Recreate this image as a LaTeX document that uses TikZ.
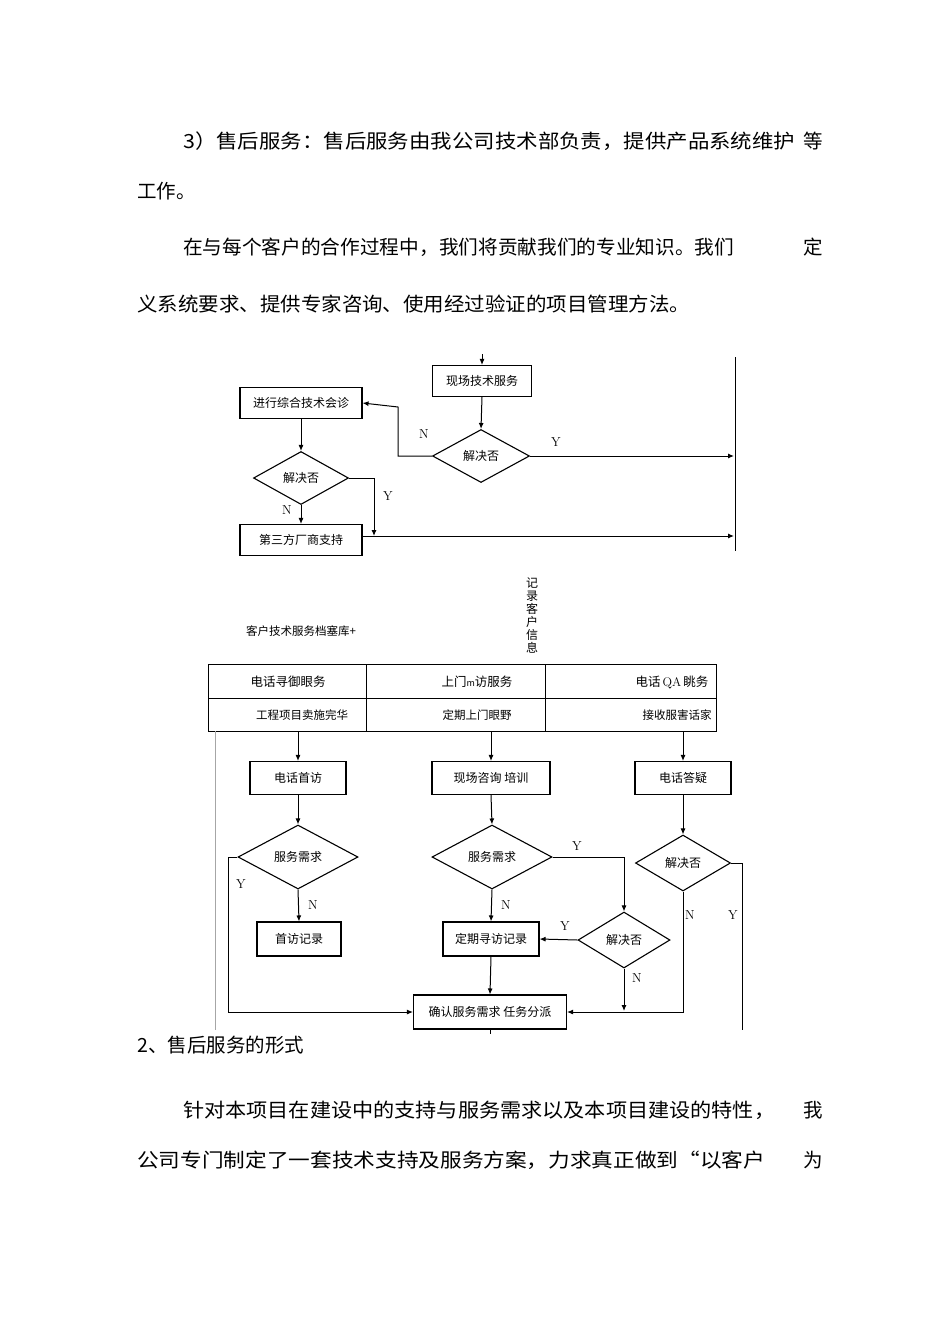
\documentclass[tikz,border=0pt]{standalone}
\usepackage{fontspec}
\usepackage{graphicx}
\newfontfamily\cjk{Noto Sans CJK SC}
\usetikzlibrary{shapes.geometric,arrows.meta}
\newcommand\fitw[2]{\resizebox{#1}{\height}{#2}}
\tikzset{
 box/.style={draw,line width=1.1pt,inner sep=0pt,font=\cjk\fontsize{12}{14}\selectfont},
 dia/.style={draw,line width=1.1pt,diamond,inner sep=0pt,aspect=1.7,font=\cjk\fontsize{12}{14}\selectfont},
 ln/.style={line width=1pt},
 arr/.style={line width=1pt,-{Latex[length=6pt,width=5pt]}},
 yn/.style={font=\fontsize{13}{15}\selectfont},
 body/.style={font=\cjk\fontsize{19.5}{22}\selectfont,inner sep=0pt},
 cell/.style={font=\cjk\fontsize{12.5}{14}\selectfont,inner sep=0pt}
}
\begin{document}
\begin{tikzpicture}[x=1pt,y=-1pt]
\useasboundingbox[fill=white] (0,0) rectangle (950,1344);
% body text
\node[body,anchor=west] (t1) at (183,141) {\fitw{612pt}{3）售后服务：售后服务由我公司技术部负责，提供产品系统维护}};
\node[body,anchor=east] (t1b) at (823,141) {等};
\node[body,anchor=west] (t2) at (137,191) {工作。};
\node[body,anchor=west] (t3) at (183,247) {\fitw{551pt}{在与每个客户的合作过程中，我们将贡献我们的专业知识。我们}};
\node[body,anchor=east] (t3b) at (823,247) {定};
\node[body,anchor=west] (t4) at (137,304) {\fitw{553pt}{义系统要求、提供专家咨询、使用经过验证的项目管理方法。}};
\node[body,anchor=west] (t5) at (137,1045) {2、售后服务的形式};
\node[body,anchor=west] (t6) at (183,1110) {\fitw{592pt}{针对本项目在建设中的支持与服务需求以及本项目建设的特性，}};
\node[body,anchor=east] (t6b) at (823,1110) {我};
\node[body,anchor=west] (t7) at (137,1160) {\fitw{628pt}{公司专门制定了一套技术支持及服务方案，力求真正做到“以客户}};
\node[body,anchor=east] (t7b) at (823,1160) {为};
% top flowchart
\coordinate (in) at (482,354);
\node[box,minimum width=99pt,minimum height=31pt] (xc) at (482,381) {现场技术服务};
\draw[arr] (in) -- (xc.north);
\node[box,minimum width=122pt,minimum height=31pt] (zh) at (301,403) {进行综合技术会诊};
\node[dia,minimum width=97pt,minimum height=53pt] (d1) at (481,456) {解决否};
\node[dia,minimum width=95pt,minimum height=53pt] (d2) at (301,478) {解决否};
\node[box,minimum width=122pt,minimum height=31pt] (ds) at (301,540) {第三方厂商支持};
\draw[ln] (735,357) -- (735,551);
\coordinate (r1) at (734,456);
\coordinate (r2) at (734,536);
\draw[arr] (xc.south) -- (d1.north);
\draw[arr] (d1.west) -| (398,407) -- (zh.east);
\draw[arr] (d1.east) -- (r1);
\draw[arr] (zh.south) -- (d2.north);
\draw[arr] (d2.south) -- (ds.north);
\draw[arr] (d2.east) -| (374,536);
\draw[arr] (ds.east |- r2) -- (r2);
\node[yn] (n1) at (424,434) {N};
\node[yn] (y1) at (556,442) {Y};
\node[yn] (n2) at (287,510) {N};
\node[yn] (y2) at (388,496) {Y};
% middle labels
\node[cell,font=\cjk\fontsize{11.5}{13}\selectfont] (lib) at (301,631) {客户技术服务档塞库+};
\node[cell,font=\cjk\fontsize{12}{13}\selectfont,align=center] (rec) at (532,615) {记\\录\\客\\户\\信\\息};
% table
\draw[line width=0.8pt] (208,664) rectangle (716,731);
\draw[line width=0.8pt] (208,698) -- (716,698) (366,664) -- (366,731) (545,664) -- (545,731);
\node[cell] (c11) at (288,682) {电话寻御眼务};
\node[cell] (c12) at (477,682) {上门{\fontsize{9}{10}\selectfont m}访服务};
\node[cell] (c13) at (672,682) {电话\,{\rmfamily QA}\,眺务};
\node[cell,font=\cjk\fontsize{11.5}{13}\selectfont] (c21) at (302,715) {工程项目卖施完华};
\node[cell,font=\cjk\fontsize{11.5}{13}\selectfont] (c22) at (477,715) {定期上门眼野};
\node[cell,font=\cjk\fontsize{11.5}{13}\selectfont] (c23) at (677,715) {接收服害话家};
\draw[line width=0.6pt,black!35] (215,731) -- (215,1030);
% lower flowchart
\node[box,minimum width=96pt,minimum height=33pt] (b1) at (298,778) {电话首访};
\node[box,minimum width=118pt,minimum height=33pt] (b2) at (491,778) {现场咨询\ 培训};
\node[box,minimum width=96pt,minimum height=33pt] (b3) at (683,778) {电话答疑};
\draw[arr] (298,731) -- (b1.north);
\draw[arr] (491,731) -- (b2.north);
\draw[arr] (683,731) -- (b3.north);
\node[dia,minimum width=120pt,minimum height=64pt] (s1) at (298,857) {服务需求};
\node[dia,minimum width=120pt,minimum height=64pt] (s2) at (492,857) {服务需求};
\node[dia,minimum width=95pt,minimum height=56pt] (s3) at (683,863) {解决否};
\draw[arr] (b1.south) -- (s1.north);
\draw[arr] (b2.south) -- (s2.north);
\draw[arr] (b3.south) -- (s3.north);
\node[box,minimum width=84pt,minimum height=34pt] (f1) at (299,939) {首访记录};
\node[box,minimum width=96pt,minimum height=34pt] (f2) at (491,939) {定期寻访记录};
\node[dia,minimum width=92pt,minimum height=56pt] (s4) at (624,940) {解决否};
\node[box,minimum width=153pt,minimum height=34pt] (ok) at (490,1012) {确认服务需求\ 任务分派};
\draw[arr] (s1.south) -- (f1.north);
\draw[arr] (s2.south) -- (f2.north);
\draw[arr] (f2.south) -- (ok.north);
\draw[arr] (s2.east) -| (s4.north);
\draw[arr] (s4.west) -- (f2.east);
\draw[arr] (s4.south) -- (624,1011);
\draw[arr] (s1.west) -| (228,1012) -- (ok.west);
\draw[arr] (s3.south) |- (ok.east);
\draw[ln] (s3.east) -| (742,1030);
\draw[ln] (ok.south) -- (490,1034);
\node[yn] (ya) at (241,884) {Y};
\node[yn] (na) at (313,905) {N};
\node[yn] (nb) at (506,905) {N};
\node[yn] (yb) at (577,846) {Y};
\node[yn] (yc) at (565,926) {Y};
\node[yn] (nc) at (637,978) {N};
\node[yn] (nd) at (690,915) {N};
\node[yn] (yd) at (733,915) {Y};
\end{tikzpicture}
\end{document}
